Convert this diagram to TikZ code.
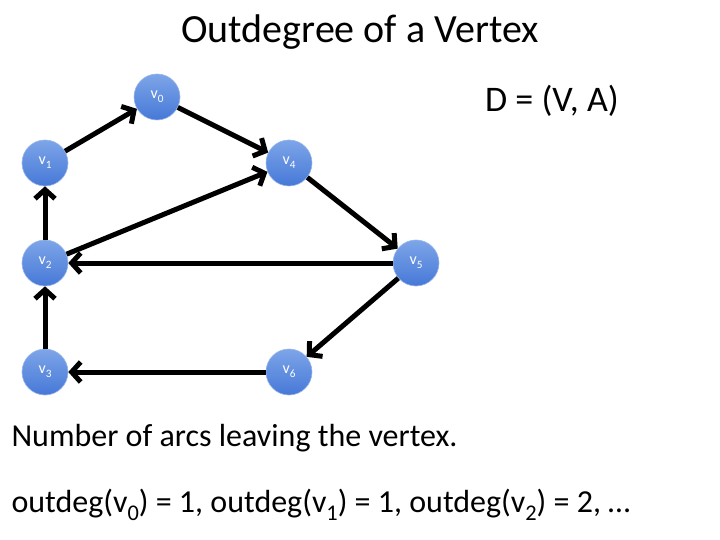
\documentclass[tikz,border=0pt]{standalone}
\usepackage{fontspec}
\setmainfont{Carlito}
\usetikzlibrary{arrows.meta}
\definecolor{vtop}{RGB}{125,165,232}
\definecolor{vbot}{RGB}{70,120,215}
\definecolor{vedge}{RGB}{150,180,235}
\newcommand{\sbs}[1]{\raisebox{-0.25em}{\scalebox{0.7}{#1}}}
\begin{document}
\begin{tikzpicture}[x=1pt,y=-1pt,
  vert/.style={circle,minimum size=46pt,inner sep=0pt,draw=vedge,line width=0.6pt,
    top color=vtop,bottom color=vbot,text=white,font=\fontsize{16}{18}\selectfont},
  arc/.style={line width=5pt,-{Straight Barb[length=9pt,width=20pt,line width=5pt]}}]
\useasboundingbox (0,0) rectangle (720,540);
\node (title) at (360,32) {\fontsize{40}{46}\selectfont Outdegree of a Vertex};
\node (D) at (552,101) {\fontsize{36}{42}\selectfont D = (V, A)};
\node (v0) [vert] at (157,97) {v\sbs{0}};
\node (v1) [vert] at (45,163) {v\sbs{1}};
\node (v4) [vert] at (289,163) {v\sbs{4}};
\node (v2) [vert] at (45,263) {v\sbs{2}};
\node (v5) [vert] at (416,263) {v\sbs{5}};
\node (v3) [vert] at (45,372) {v\sbs{3}};
\node (v6) [vert] at (289,372) {v\sbs{6}};
\draw[arc] (v1) -- (v0);
\draw[arc] (v0) -- (v4);
\draw[arc] (v4) -- (v5);
\draw[arc] (v5) -- (v2);
\draw[arc] (v2) -- (v4);
\draw[arc] (v2) -- (v1);
\draw[arc] (v3) -- (v2);
\draw[arc] (v5) -- (v6);
\draw[arc] (v6) -- (v3);
\node[anchor=west] (t1) at (8,438) {\fontsize{32}{38}\selectfont Number of arcs leaving the vertex.};
\node[anchor=west] (t2) at (8,505) {\fontsize{32}{38}\selectfont outdeg(v\sbs{0}) = 1, outdeg(v\sbs{1}) = 1, outdeg(v\sbs{2}) = 2, …};
\end{tikzpicture}
\end{document}
